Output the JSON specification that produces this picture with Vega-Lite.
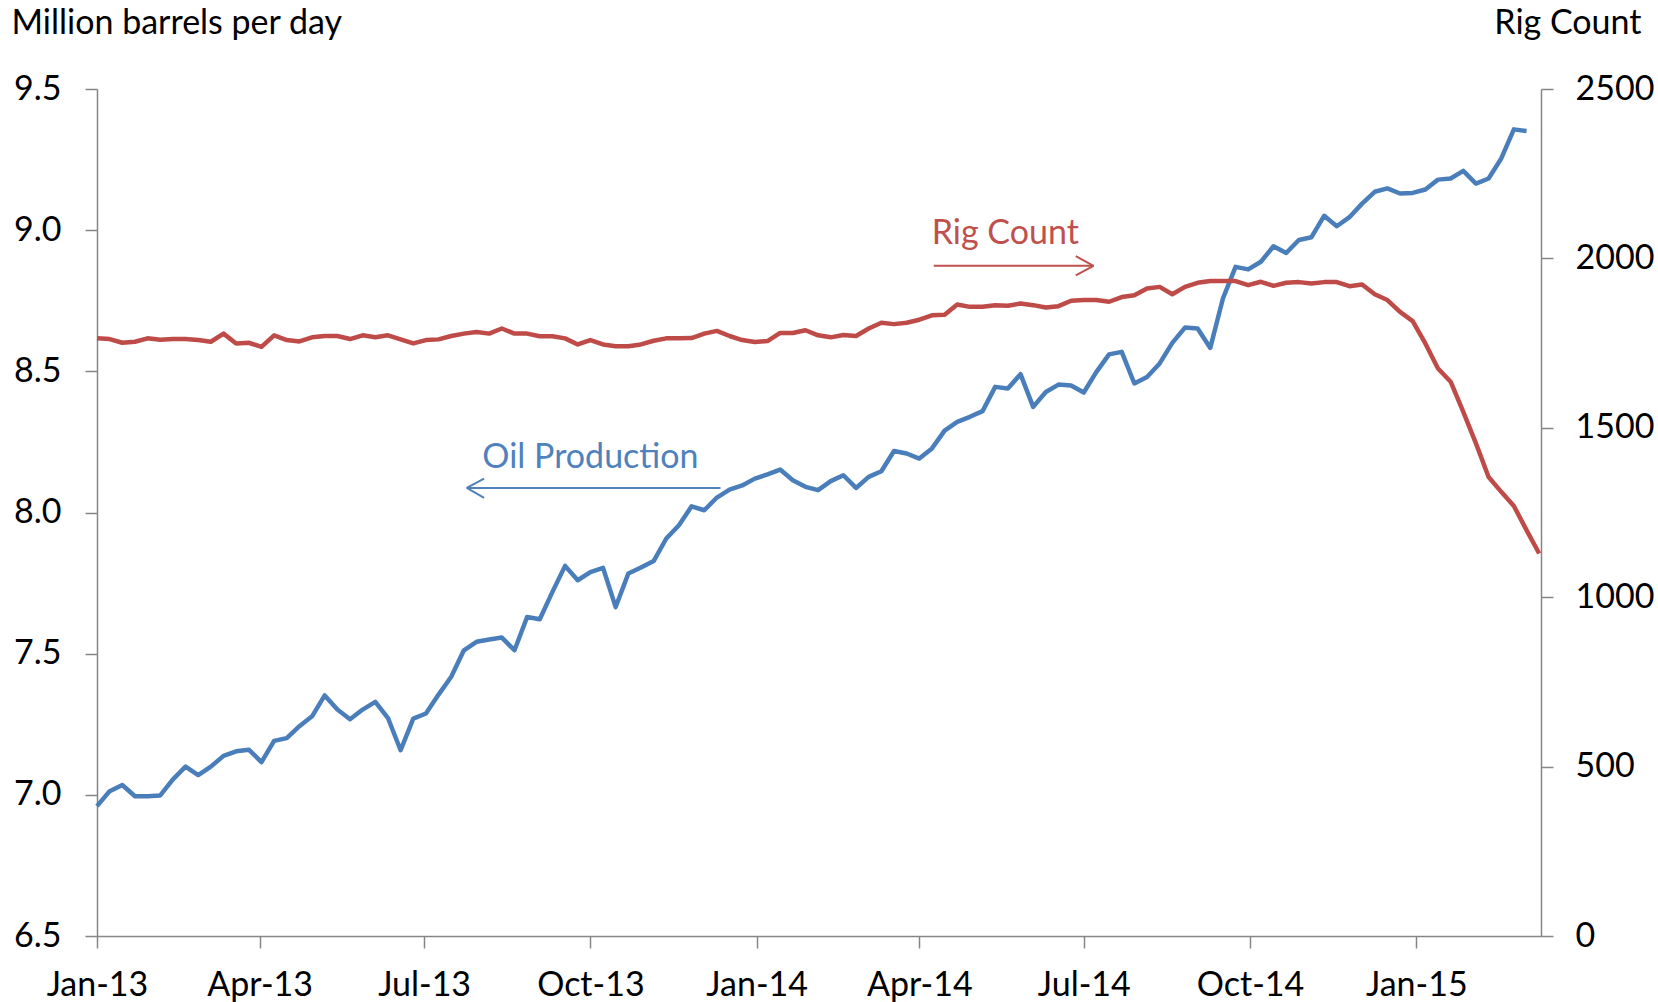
{
  "$schema": "https://vega.github.io/schema/vega-lite/v6.json",
  "width": 1444,
  "height": 847,
  "autosize": {"type": "none"},
  "padding": {"left": 97, "top": 89, "right": 117, "bottom": 66},
  "background": "white",
  "config": {
    "font": "Lato",
    "view": {"stroke": null},
    "axis": {
      "grid": false,
      "domainColor": "#868686",
      "domainWidth": 1.5,
      "tickColor": "#868686",
      "tickWidth": 1.5,
      "tickSize": 12,
      "labelFontSize": 34,
      "labelColor": "#000000",
      "titleFontSize": 34,
      "titleFontWeight": "normal",
      "titleColor": "#000000",
      "labelOverlap": false,
      "labelFlush": false
    }
  },
  "datasets": {
    "weekly": [
      {"date": "2013-01-01", "oil": 6.960, "rigs": 1764},
      {"date": "2013-01-08", "oil": 7.013, "rigs": 1762},
      {"date": "2013-01-15", "oil": 7.035, "rigs": 1751},
      {"date": "2013-01-22", "oil": 6.995, "rigs": 1754},
      {"date": "2013-01-29", "oil": 6.995, "rigs": 1764},
      {"date": "2013-02-05", "oil": 6.998, "rigs": 1760},
      {"date": "2013-02-12", "oil": 7.055, "rigs": 1762},
      {"date": "2013-02-19", "oil": 7.100, "rigs": 1762},
      {"date": "2013-02-26", "oil": 7.070, "rigs": 1759},
      {"date": "2013-03-05", "oil": 7.100, "rigs": 1754},
      {"date": "2013-03-12", "oil": 7.138, "rigs": 1778},
      {"date": "2013-03-19", "oil": 7.154, "rigs": 1749},
      {"date": "2013-03-26", "oil": 7.160, "rigs": 1751},
      {"date": "2013-04-02", "oil": 7.116, "rigs": 1739},
      {"date": "2013-04-09", "oil": 7.191, "rigs": 1773},
      {"date": "2013-04-16", "oil": 7.201, "rigs": 1759},
      {"date": "2013-04-23", "oil": 7.243, "rigs": 1755},
      {"date": "2013-04-30", "oil": 7.278, "rigs": 1767},
      {"date": "2013-05-07", "oil": 7.352, "rigs": 1771},
      {"date": "2013-05-14", "oil": 7.302, "rigs": 1771},
      {"date": "2013-05-21", "oil": 7.268, "rigs": 1762},
      {"date": "2013-05-28", "oil": 7.302, "rigs": 1773},
      {"date": "2013-06-04", "oil": 7.329, "rigs": 1767},
      {"date": "2013-06-11", "oil": 7.272, "rigs": 1773},
      {"date": "2013-06-18", "oil": 7.158, "rigs": 1761},
      {"date": "2013-06-25", "oil": 7.270, "rigs": 1749},
      {"date": "2013-07-02", "oil": 7.288, "rigs": 1759},
      {"date": "2013-07-09", "oil": 7.355, "rigs": 1761},
      {"date": "2013-07-16", "oil": 7.418, "rigs": 1771},
      {"date": "2013-07-23", "oil": 7.512, "rigs": 1778},
      {"date": "2013-07-30", "oil": 7.542, "rigs": 1783},
      {"date": "2013-08-06", "oil": 7.550, "rigs": 1778},
      {"date": "2013-08-13", "oil": 7.557, "rigs": 1793},
      {"date": "2013-08-20", "oil": 7.512, "rigs": 1778},
      {"date": "2013-08-27", "oil": 7.630, "rigs": 1778},
      {"date": "2013-09-03", "oil": 7.622, "rigs": 1770},
      {"date": "2013-09-10", "oil": 7.719, "rigs": 1770},
      {"date": "2013-09-17", "oil": 7.811, "rigs": 1764},
      {"date": "2013-09-24", "oil": 7.760, "rigs": 1746},
      {"date": "2013-10-01", "oil": 7.789, "rigs": 1759},
      {"date": "2013-10-08", "oil": 7.804, "rigs": 1746},
      {"date": "2013-10-15", "oil": 7.665, "rigs": 1741},
      {"date": "2013-10-22", "oil": 7.784, "rigs": 1741},
      {"date": "2013-10-29", "oil": 7.805, "rigs": 1746},
      {"date": "2013-11-05", "oil": 7.828, "rigs": 1757},
      {"date": "2013-11-12", "oil": 7.908, "rigs": 1764},
      {"date": "2013-11-19", "oil": 7.955, "rigs": 1764},
      {"date": "2013-11-26", "oil": 8.022, "rigs": 1765},
      {"date": "2013-12-03", "oil": 8.008, "rigs": 1778},
      {"date": "2013-12-10", "oil": 8.053, "rigs": 1786},
      {"date": "2013-12-17", "oil": 8.081, "rigs": 1771},
      {"date": "2013-12-24", "oil": 8.096, "rigs": 1759},
      {"date": "2013-12-31", "oil": 8.120, "rigs": 1753},
      {"date": "2014-01-07", "oil": 8.135, "rigs": 1756},
      {"date": "2014-01-14", "oil": 8.152, "rigs": 1780},
      {"date": "2014-01-21", "oil": 8.114, "rigs": 1780},
      {"date": "2014-01-28", "oil": 8.091, "rigs": 1788},
      {"date": "2014-02-04", "oil": 8.079, "rigs": 1773},
      {"date": "2014-02-11", "oil": 8.111, "rigs": 1767},
      {"date": "2014-02-18", "oil": 8.132, "rigs": 1774},
      {"date": "2014-02-25", "oil": 8.087, "rigs": 1771},
      {"date": "2014-03-04", "oil": 8.126, "rigs": 1793},
      {"date": "2014-03-11", "oil": 8.146, "rigs": 1810},
      {"date": "2014-03-18", "oil": 8.218, "rigs": 1806},
      {"date": "2014-03-25", "oil": 8.209, "rigs": 1810},
      {"date": "2014-04-01", "oil": 8.191, "rigs": 1819},
      {"date": "2014-04-08", "oil": 8.227, "rigs": 1832},
      {"date": "2014-04-15", "oil": 8.290, "rigs": 1834},
      {"date": "2014-04-22", "oil": 8.321, "rigs": 1864},
      {"date": "2014-04-29", "oil": 8.339, "rigs": 1857},
      {"date": "2014-05-06", "oil": 8.359, "rigs": 1857},
      {"date": "2014-05-13", "oil": 8.445, "rigs": 1862},
      {"date": "2014-05-20", "oil": 8.439, "rigs": 1860},
      {"date": "2014-05-27", "oil": 8.490, "rigs": 1867},
      {"date": "2014-06-03", "oil": 8.374, "rigs": 1862},
      {"date": "2014-06-10", "oil": 8.427, "rigs": 1855},
      {"date": "2014-06-17", "oil": 8.453, "rigs": 1859},
      {"date": "2014-06-24", "oil": 8.450, "rigs": 1875},
      {"date": "2014-07-01", "oil": 8.425, "rigs": 1877},
      {"date": "2014-07-08", "oil": 8.498, "rigs": 1877},
      {"date": "2014-07-15", "oil": 8.560, "rigs": 1872},
      {"date": "2014-07-22", "oil": 8.569, "rigs": 1886},
      {"date": "2014-07-29", "oil": 8.457, "rigs": 1891},
      {"date": "2014-08-05", "oil": 8.480, "rigs": 1911},
      {"date": "2014-08-12", "oil": 8.528, "rigs": 1916},
      {"date": "2014-08-19", "oil": 8.601, "rigs": 1894},
      {"date": "2014-08-26", "oil": 8.655, "rigs": 1916},
      {"date": "2014-09-02", "oil": 8.652, "rigs": 1928},
      {"date": "2014-09-09", "oil": 8.583, "rigs": 1933},
      {"date": "2014-09-16", "oil": 8.758, "rigs": 1933},
      {"date": "2014-09-23", "oil": 8.870, "rigs": 1933},
      {"date": "2014-09-30", "oil": 8.861, "rigs": 1921},
      {"date": "2014-10-07", "oil": 8.888, "rigs": 1931},
      {"date": "2014-10-14", "oil": 8.943, "rigs": 1919},
      {"date": "2014-10-21", "oil": 8.919, "rigs": 1928},
      {"date": "2014-10-28", "oil": 8.965, "rigs": 1930},
      {"date": "2014-11-04", "oil": 8.975, "rigs": 1926},
      {"date": "2014-11-11", "oil": 9.051, "rigs": 1930},
      {"date": "2014-11-18", "oil": 9.014, "rigs": 1930},
      {"date": "2014-11-25", "oil": 9.046, "rigs": 1918},
      {"date": "2014-12-02", "oil": 9.094, "rigs": 1923},
      {"date": "2014-12-09", "oil": 9.136, "rigs": 1894},
      {"date": "2014-12-16", "oil": 9.148, "rigs": 1877},
      {"date": "2014-12-23", "oil": 9.130, "rigs": 1842},
      {"date": "2014-12-30", "oil": 9.132, "rigs": 1815},
      {"date": "2015-01-06", "oil": 9.144, "rigs": 1749},
      {"date": "2015-01-13", "oil": 9.179, "rigs": 1675},
      {"date": "2015-01-20", "oil": 9.183, "rigs": 1636},
      {"date": "2015-01-27", "oil": 9.210, "rigs": 1547},
      {"date": "2015-02-03", "oil": 9.165, "rigs": 1454},
      {"date": "2015-02-10", "oil": 9.183, "rigs": 1355},
      {"date": "2015-02-17", "oil": 9.254, "rigs": 1311},
      {"date": "2015-02-24", "oil": 9.357, "rigs": 1269},
      {"date": "2015-03-03", "oil": 9.351, "rigs": 1198},
      {"date": "2015-03-10", "oil": null, "rigs": 1129}
    ],
    "oilLabel": [
      {"date": "2013-10-01", "oil": 8.156, "label": "Oil Production"}
    ],
    "oilArrow": [
      {"date": "2013-12-12", "date2": "2013-07-24T14:00:00Z", "oil": 8.087, "oil2": 8.087},
      {"date": "2013-07-24T14:00:00Z", "date2": "2013-08-03T05:00:00Z", "oil": 8.087, "oil2": 8.120},
      {"date": "2013-07-24T14:00:00Z", "date2": "2013-08-03T05:00:00Z", "oil": 8.087, "oil2": 8.052}
    ],
    "rigLabel": [
      {"date": "2014-05-18T14:00:00Z", "rigs": 2042, "label": "Rig Count"}
    ],
    "rigArrow": [
      {"date": "2014-04-09", "date2": "2014-07-06T10:00:00Z", "rigs": 1978, "rigs2": 1978},
      {"date": "2014-07-06T10:00:00Z", "date2": "2014-06-26T14:00:00Z", "rigs": 1978, "rigs2": 2007},
      {"date": "2014-07-06T10:00:00Z", "date2": "2014-06-26T14:00:00Z", "rigs": 1978, "rigs2": 1950}
    ]
  },
  "layer": [
    {
      "layer": [
        {
          "data": {"name": "weekly"},
          "mark": {"type": "line", "color": "#4A7EBB", "strokeWidth": 4.5, "strokeJoin": "round", "strokeCap": "butt"},
          "encoding": {
            "x": {
              "field": "date", "type": "temporal", "title": null,
              "scale": {"type": "utc", "domain": ["2013-01-01", "2015-03-11"]},
              "axis": {"format": "%b-%y", "tickCount": {"interval": "month", "step": 3}, "labelPadding": 20, "labelBaseline": "top"}
            },
            "y": {
              "field": "oil", "type": "quantitative",
              "scale": {"domain": [6.5, 9.5], "nice": false, "zero": false},
              "axis": {
                "title": "Million barrels per day",
                "values": [6.5, 7, 7.5, 8, 8.5, 9, 9.5],
                "format": ".1f",
                "labelPadding": 24,
                "titleAngle": 0, "titleAlign": "left", "titleBaseline": "middle",
                "titleX": -86, "titleY": -66
              }
            }
          }
        },
        {
          "data": {"name": "oilLabel"},
          "mark": {"type": "text", "color": "#4F81BD", "fontSize": 34, "align": "center", "baseline": "alphabetic"},
          "encoding": {
            "x": {"field": "date", "type": "temporal", "title": null, "scale": {"type": "utc", "domain": ["2013-01-01", "2015-03-11"]}},
            "y": {"field": "oil", "type": "quantitative", "scale": {"domain": [6.5, 9.5], "nice": false, "zero": false}},
            "text": {"field": "label"}
          }
        },
        {
          "data": {"name": "oilArrow"},
          "mark": {"type": "rule", "color": "#4F81BD", "strokeWidth": 2},
          "encoding": {
            "x": {"field": "date", "type": "temporal", "title": null, "scale": {"type": "utc", "domain": ["2013-01-01", "2015-03-11"]}},
            "x2": {"field": "date2"},
            "y": {"field": "oil", "type": "quantitative", "scale": {"domain": [6.5, 9.5], "nice": false, "zero": false}},
            "y2": {"field": "oil2"}
          }
        }
      ]
    },
    {
      "layer": [
        {
          "data": {"name": "weekly"},
          "mark": {"type": "line", "color": "#BE4B48", "strokeWidth": 4.5, "strokeJoin": "round", "strokeCap": "butt"},
          "encoding": {
            "x": {"field": "date", "type": "temporal", "title": null, "scale": {"type": "utc", "domain": ["2013-01-01", "2015-03-11"]}},
            "y": {
              "field": "rigs", "type": "quantitative",
              "scale": {"domain": [0, 2500], "nice": false},
              "axis": {
                "orient": "right",
                "title": "Rig Count",
                "values": [0, 500, 1000, 1500, 2000, 2500],
                "format": "d",
                "labelPadding": 22,
                "titleAngle": 0, "titleAlign": "right", "titleBaseline": "middle",
                "titleX": 100, "titleY": -66
              }
            }
          }
        },
        {
          "data": {"name": "rigLabel"},
          "mark": {"type": "text", "color": "#C0504D", "fontSize": 34, "align": "center", "baseline": "alphabetic"},
          "encoding": {
            "x": {"field": "date", "type": "temporal", "title": null, "scale": {"type": "utc", "domain": ["2013-01-01", "2015-03-11"]}},
            "y": {"field": "rigs", "type": "quantitative", "scale": {"domain": [0, 2500], "nice": false}},
            "text": {"field": "label"}
          }
        },
        {
          "data": {"name": "rigArrow"},
          "mark": {"type": "rule", "color": "#C0504D", "strokeWidth": 2},
          "encoding": {
            "x": {"field": "date", "type": "temporal", "title": null, "scale": {"type": "utc", "domain": ["2013-01-01", "2015-03-11"]}},
            "x2": {"field": "date2"},
            "y": {"field": "rigs", "type": "quantitative", "scale": {"domain": [0, 2500], "nice": false}},
            "y2": {"field": "rigs2"}
          }
        }
      ]
    }
  ],
  "resolve": {"scale": {"y": "independent"}}
}
